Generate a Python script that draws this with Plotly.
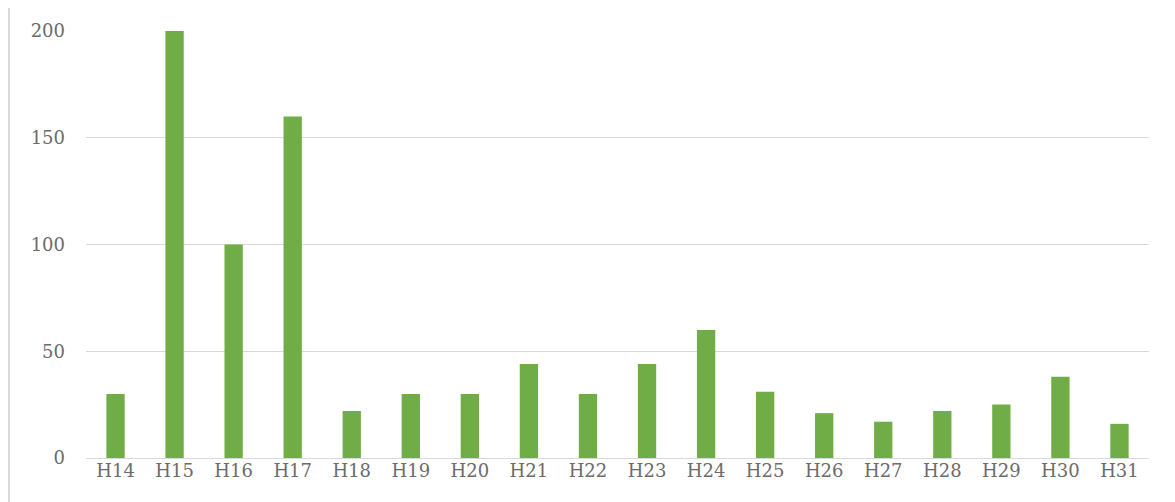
import plotly.graph_objects as go

categories = ["H14", "H15", "H16", "H17", "H18", "H19", "H20", "H21", "H22",
              "H23", "H24", "H25", "H26", "H27", "H28", "H29", "H30", "H31"]
values = [30, 200, 100, 160, 22, 30, 30, 44, 30, 44, 60, 31, 21, 17, 22, 25, 38, 16]
y_ticks = [0, 50, 100, 150, 200]

fig = go.Figure(go.Bar(x=categories, y=values, marker_color="#70AD47",
                       marker_line_width=0))

font = dict(family="DejaVu Serif", size=18, color="#6b6b6b")
fig.update_layout(
    width=1175, height=502,
    margin=dict(l=78, r=34, t=23, b=52),
    paper_bgcolor="white", plot_bgcolor="white",
    bargap=0.69,
    showlegend=False,
    font=font,
)
fig.update_xaxes(showgrid=False, showline=False, ticks="", tickfont=font,
                 ticklabelstandoff=0)
fig.update_yaxes(range=[0, 200], tickvals=y_ticks, showgrid=True,
                 gridcolor="#D9D9D9", gridwidth=1, zeroline=True,
                 zerolinecolor="#D9D9D9", zerolinewidth=1, showline=False,
                 ticks="", tickfont=font, ticklabelstandoff=20)
fig.add_shape(type="line", xref="paper", yref="paper",
              x0=-77/1063, x1=-77/1063, y0=-52/427, y1=23/427 + 1,
              line=dict(color="#D9D9D9", width=2))
fig.write_html("out.html")
